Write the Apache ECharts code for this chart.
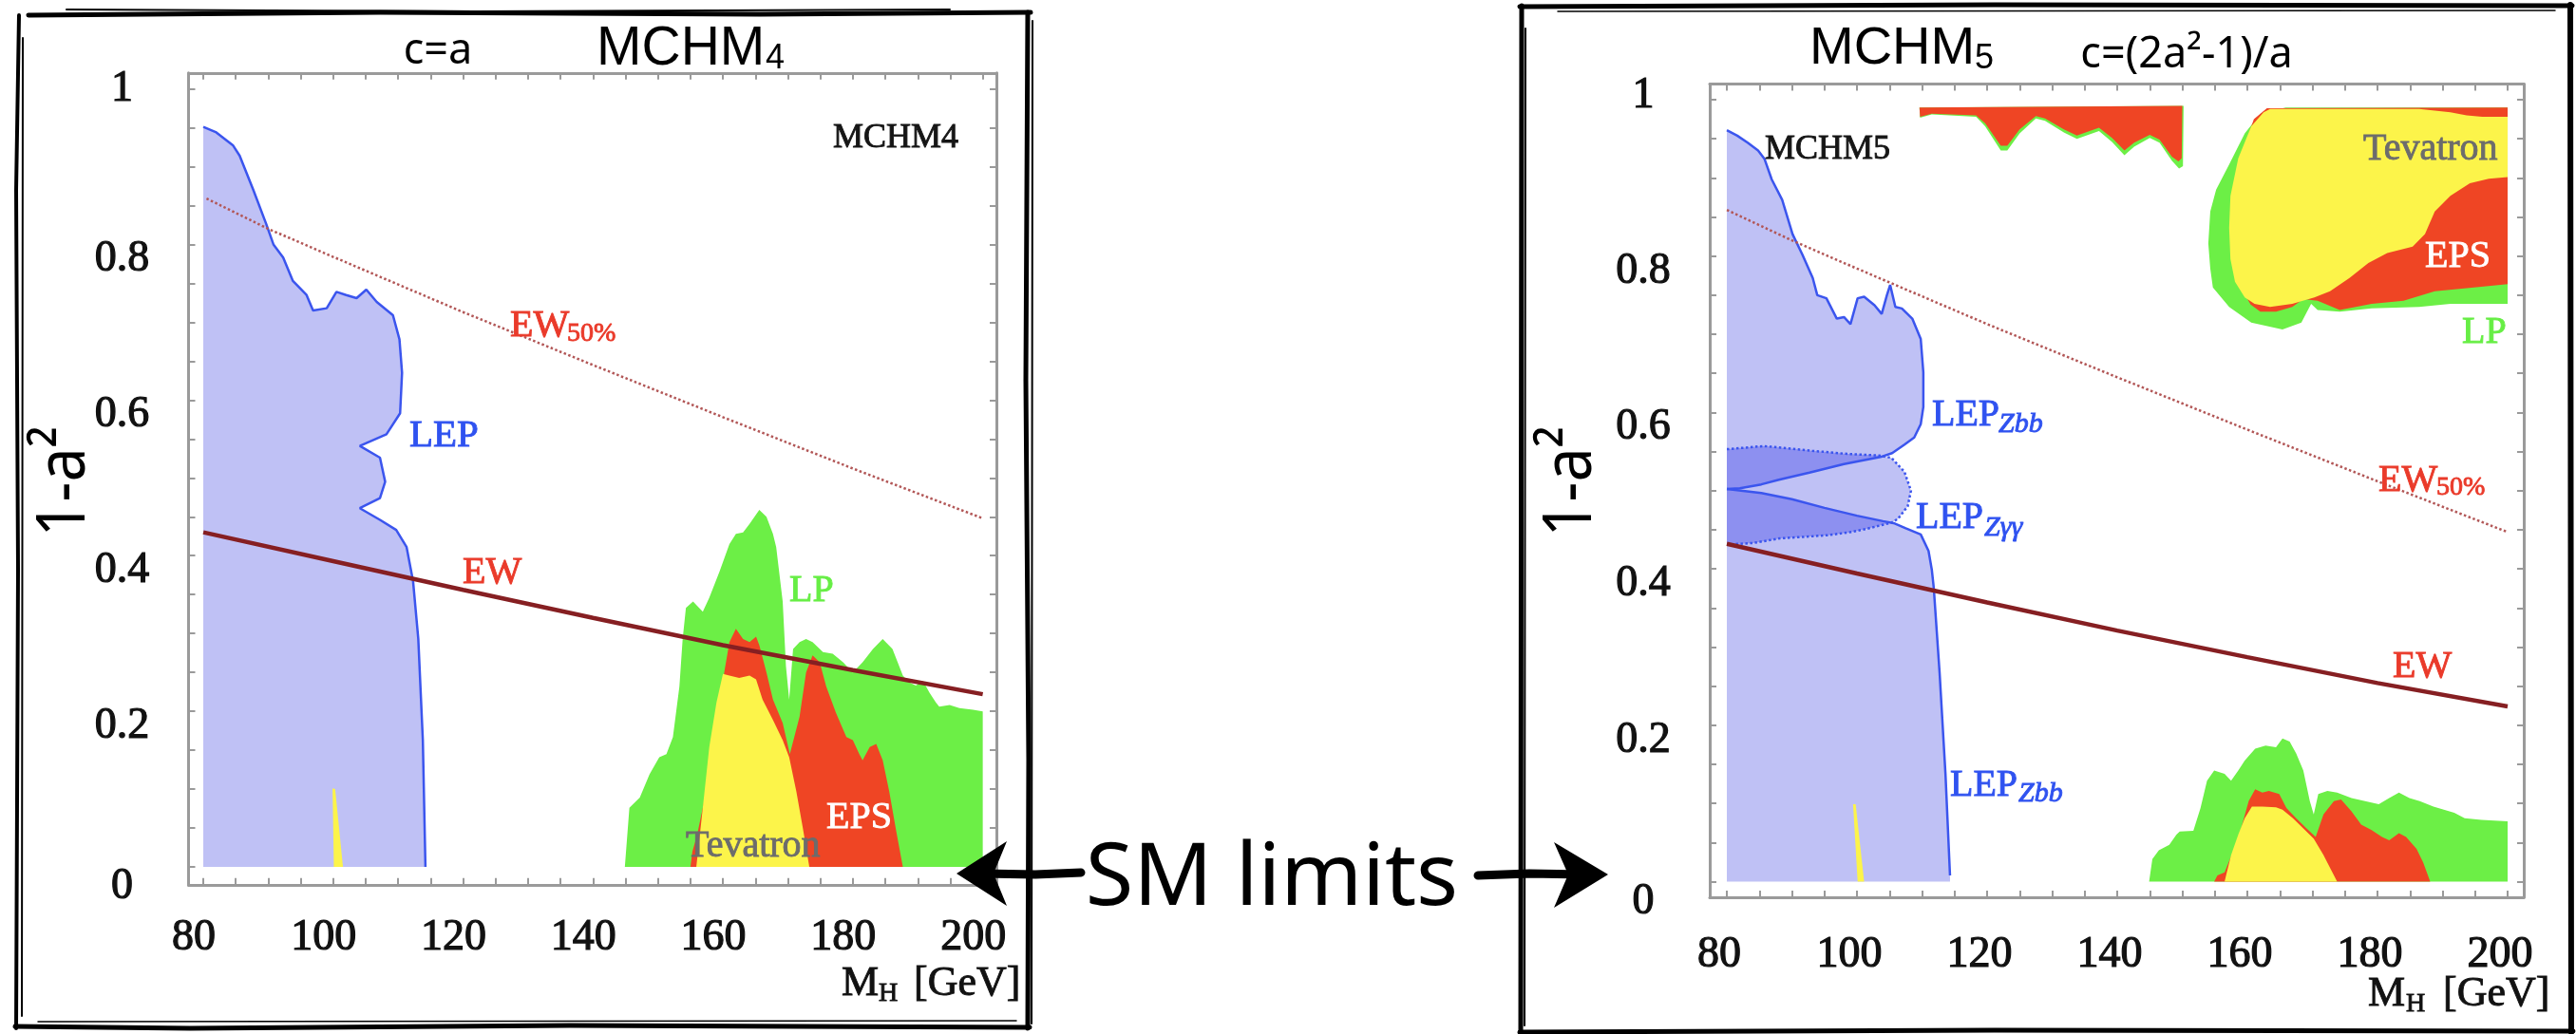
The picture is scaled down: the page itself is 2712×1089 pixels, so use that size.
<!DOCTYPE html>
<html><head><meta charset="utf-8">
<script src="https://cdn.jsdelivr.net/npm/echarts@6/dist/echarts.min.js"></script>
<style>html,body{margin:0;padding:0;background:#fff}#c{width:2712px;height:1089px}</style>
</head><body><div id="c"></div>
<script>
// ---------- axis values ----------
const xLabelValues = [80, 100, 120, 140, 160, 180, 200];
const xTickValues = [80, 85, 90, 95, 100, 105, 110, 115, 120, 125, 130, 135, 140, 145, 150, 155, 160, 165, 170, 175, 180, 185, 190, 195, 200];
const yLabelValues = [0, 0.2, 0.4, 0.6, 0.8, 1];
const yTickValues = [0, 0.05, 0.1, 0.15, 0.2, 0.25, 0.3, 0.35, 0.4, 0.45, 0.5, 0.55, 0.6, 0.65, 0.7, 0.75, 0.8, 0.85, 0.9, 0.95, 1];

// ---------- left panel: MCHM4 ----------
const lepL = [[80,0.951],[82,0.944],[84.6,0.927],[85.6,0.914],[87.7,0.870],[89.7,0.826],[90.8,0.800],[92.3,0.783],[93.8,0.753],[95.9,0.735],[96.9,0.715],[99.0,0.718],[100.5,0.739],[102.0,0.735],[103.6,0.731],[105.1,0.742],[106.7,0.726],[109.2,0.709],[110.2,0.678],[110.6,0.635],[110.3,0.583],[108.2,0.556],[104.1,0.541],[107.2,0.526],[108.0,0.495],[107.2,0.474],[104.1,0.461],[107.2,0.446],[109.7,0.433],[111.3,0.411],[112.3,0.367],[113.1,0.293],[113.8,0.163],[114.2,0.0]];
const spikeL = [[99.9,0.101],[100.3,0.100],[101.5,0],[100.1,0]];
const greenL = [[144.9,0],[145.6,0.076],[147.2,0.089],[148.7,0.119],[150.2,0.141],[151.3,0.145],[152.3,0.167],[153.3,0.232],[153.8,0.293],[154.3,0.333],[155.4,0.341],[156.9,0.328],[157.9,0.346],[159.5,0.380],[161.0,0.415],[162.0,0.428],[163.1,0.430],[164.1,0.441],[165.6,0.459],[166.7,0.450],[167.7,0.428],[168.2,0.411],[169.2,0.341],[169.7,0.258],[170.2,0.215],[170.8,0.280],[171.8,0.289],[172.8,0.293],[173.8,0.289],[175.4,0.276],[176.9,0.274],[178.5,0.263],[180.0,0.250],[181.5,0.263],[183.1,0.280],[184.6,0.293],[186.1,0.280],[187.7,0.246],[188.7,0.237],[189.7,0.233],[190.8,0.239],[191.8,0.224],[192.8,0.211],[193.3,0.206],[194.9,0.208],[196.4,0.204],[198.5,0.202],[200.0,0.200],[200.0,0]];
const redL = [[155.0,0],[155.3,0.020],[156.0,0.040],[157.5,0.100],[159.5,0.200],[160.2,0.250],[161.0,0.289],[162.0,0.306],[163.1,0.293],[164.1,0.289],[165.1,0.296],[165.6,0.285],[166.7,0.250],[167.7,0.215],[169.2,0.185],[170.3,0.145],[171.8,0.193],[172.8,0.250],[173.8,0.272],[174.9,0.263],[175.9,0.232],[177.4,0.198],[179.0,0.167],[180.0,0.163],[181.0,0.145],[181.5,0.137],[182.6,0.154],[183.6,0.158],[184.6,0.137],[185.6,0.097],[186.7,0.045],[187.7,0]];
const yellowL = [[155.9,0],[156.9,0.076],[157.9,0.154],[159.0,0.211],[160.0,0.248],[161.0,0.246],[162.5,0.243],[164.1,0.246],[165.1,0.241],[166.1,0.215],[167.7,0.189],[169.2,0.163],[170.2,0.141],[171.3,0.097],[172.3,0.050],[173.3,0]];
const ewL = [[80,0.430],[100,0.393],[120,0.356],[140,0.320],[160,0.285],[180,0.253],[200,0.222]];
const ew50L = [[80.5,0.859],[90,0.820],[100,0.784],[120,0.713],[140,0.645],[160,0.578],[180,0.512],[200,0.448]];

// ---------- right panel: MCHM5 ----------
const zbbTop = [[80.0,0.961],[81.6,0.954],[83.2,0.945],[84.8,0.935],[85.8,0.924],[86.9,0.898],[88.5,0.872],[90.1,0.828],[91.6,0.802],[93.2,0.772],[93.9,0.750],[95.3,0.746],[96.9,0.720],[98.0,0.722],[99.0,0.713],[100.1,0.746],[101.1,0.748],[102.7,0.737],[103.8,0.726],[104.6,0.750],[105.1,0.763],[105.9,0.735],[106.9,0.733],[108.5,0.720],[109.8,0.694],[110.2,0.651],[110.2,0.607],[109.8,0.585],[108.8,0.568],[107.3,0.559],[105.4,0.548],[103.6,0.543]];
const zbbUpper = [[103.6,0.543],[98.0,0.534],[92.7,0.523],[88.0,0.514],[85.3,0.508],[82.0,0.503],[80.0,0.502]];
const zbbLower = [[80,0.502],[85.3,0.497],[90,0.489],[95,0.478],[100,0.468],[104,0.461],[105.8,0.458],[107.5,0.452],[109.8,0.444],[111.0,0.423],[111.5,0.399],[111.8,0.376],[112.7,0.267],[113.6,0.138],[114.3,0.008]];
const zggTop = [[80,0.553],[85.7,0.557],[93.1,0.551],[98.5,0.547],[103.4,0.545],[105.3,0.542],[107.3,0.524],[108.3,0.500],[107.8,0.480],[106.3,0.464],[105.3,0.459]];
const zggBottom = [[105.3,0.459],[103.8,0.456],[101.4,0.451],[99.0,0.447],[95.5,0.443],[92.0,0.441],[88.2,0.439],[84.0,0.433],[80.0,0.431]];
const spikeR = [[99.4,0.099],[99.8,0.099],[101.1,0],[100.1,0]];
const greenStrip = [[109.6,0.990],[150.2,0.992],[150.1,0.915],[149.5,0.912],[148.4,0.922],[146.5,0.945],[145.0,0.951],[142.6,0.940],[141.1,0.929],[139.2,0.946],[137.2,0.960],[133.8,0.950],[131.8,0.958],[128.9,0.973],[127.5,0.976],[125.0,0.957],[123.1,0.935],[122.1,0.935],[119.7,0.966],[118.3,0.978],[111.5,0.981],[109.7,0.977]];
const redStrip = [[109.6,0.990],[150.0,0.992],[149.9,0.925],[149.4,0.921],[148.4,0.927],[146.5,0.949],[145.0,0.955],[142.6,0.945],[141.1,0.935],[139.2,0.951],[137.2,0.964],[133.8,0.954],[131.8,0.962],[128.9,0.976],[127.5,0.979],[125.0,0.962],[123.1,0.941],[122.1,0.941],[119.7,0.970],[118.3,0.980],[111.5,0.982],[109.7,0.978]];
const greenTR = [[165.9,0.990],[162.0,0.982],[159.6,0.957],[157.2,0.917],[155.2,0.885],[154.3,0.857],[154.0,0.816],[154.3,0.784],[154.7,0.760],[157.2,0.735],[160.6,0.715],[165.4,0.706],[168.3,0.715],[169.8,0.739],[170.8,0.731],[174.2,0.729],[179.1,0.733],[186.4,0.735],[191.2,0.739],[200.0,0.739],[200.0,0.990]];
const redTR = [[163.0,0.989],[161.0,0.975],[159.5,0.940],[158.2,0.890],[157.8,0.840],[158.0,0.790],[159.0,0.760],[160.5,0.738],[162.0,0.729],[164.4,0.729],[166.9,0.735],[168.6,0.745],[170.8,0.743],[174.2,0.731],[179.1,0.739],[184.0,0.743],[188.8,0.755],[193.7,0.759],[200.0,0.764],[200.0,0.990]];
const yellowTR = [[163.5,0.988],[186.4,0.988],[191.2,0.984],[193.7,0.980],[196.1,0.978],[200.0,0.978],[200.0,0.901],[197.1,0.899],[194.2,0.893],[191.2,0.877],[188.8,0.857],[187.3,0.828],[185.4,0.812],[181.5,0.804],[178.6,0.791],[175.7,0.772],[172.7,0.755],[170.3,0.747],[166.9,0.739],[163.5,0.735],[161.1,0.739],[159.6,0.747],[158.1,0.767],[157.4,0.796],[157.2,0.836],[157.4,0.877],[158.6,0.925],[160.6,0.966],[162.5,0.984]];
const greenBR = [[144.9,0],[145.4,0.029],[146.4,0.040],[148.0,0.047],[149.1,0.060],[149.6,0.064],[151.7,0.065],[152.8,0.094],[153.8,0.129],[154.9,0.142],[156.5,0.138],[157.5,0.129],[158.6,0.142],[159.6,0.155],[161.2,0.170],[162.8,0.174],[164.4,0.172],[165.4,0.183],[166.5,0.179],[167.5,0.164],[168.6,0.142],[169.6,0.103],[170.2,0.086],[170.9,0.112],[172.3,0.116],[173.8,0.114],[176.0,0.107],[178.1,0.103],[180.2,0.099],[181.8,0.107],[183.3,0.114],[184.9,0.107],[186.5,0.103],[188.6,0.096],[190.2,0.092],[191.8,0.088],[193.4,0.081],[196.0,0.079],[200.0,0.077],[200.0,0]];
const redBR = [[154.9,0],[155.4,0.008],[156.5,0.012],[158.6,0.055],[160.2,0.103],[161.2,0.118],[162.3,0.114],[163.3,0.116],[164.9,0.112],[166.0,0.094],[167.5,0.081],[169.1,0.068],[170.5,0.057],[171.7,0.086],[173.3,0.103],[174.4,0.105],[176.0,0.090],[177.5,0.073],[179.1,0.066],[180.7,0.057],[181.8,0.053],[183.3,0.062],[184.4,0.057],[186.0,0.042],[187.0,0.025],[188.1,0]];
const yellowBR = [[156.5,0],[157.5,0.034],[158.6,0.060],[159.6,0.081],[160.7,0.096],[162.3,0.096],[164.4,0.095],[165.4,0.092],[167.0,0.081],[168.6,0.068],[170.2,0.055],[171.7,0.034],[172.8,0.016],[173.8,0]];
const ewR = [[80,0.432],[100,0.394],[120,0.357],[140,0.321],[160,0.287],[180,0.254],[200,0.224]];
const ew50R = [[80,0.859],[90,0.820],[100,0.784],[120,0.713],[140,0.645],[160,0.578],[180,0.512],[200,0.447]];

// ---------- styling ----------
const C = {
  blueFill: '#bfc1f5', blueDark: '#8d90f0', blueLine: '#3b55ee',
  green: '#6cef46', red: '#ef4524', yellow: '#fcf44a',
  ew: '#861f22', ew50: '#b25757', frame: '#9a9a9a',
  lblRed: '#ea3a2a', lblBlue: '#2f52f0', lblGreen: '#66ee44', lblGray: '#6c6c6c'
};
const SERIF = '"Liberation Serif", "DejaVu Serif", serif';
const SANS = '"Liberation Sans", Arial, sans-serif';
const HAND = '"Noto Sans", "Open Sans", sans-serif';

function poly(gi, pts, color, z) {
  return {
    type: 'custom', xAxisIndex: gi * 2, yAxisIndex: gi * 2, silent: true, z: z,
    data: [pts[0]],
    renderItem: function (params, api) {
      return { type: 'polygon', shape: { points: pts.map(function (p) { return api.coord(p); }) }, style: { fill: color } };
    }
  };
}
function line(gi, pts, color, width, type, z) {
  return {
    type: 'line', xAxisIndex: gi * 2, yAxisIndex: gi * 2, silent: true, z: z,
    data: pts, symbol: 'none', showSymbol: false, smooth: false,
    lineStyle: { color: color, width: width, type: type }
  };
}

const lepLFill = [[80, 0]].concat(lepL);
const zbbFill = [[80, 0]].concat(zbbTop, zbbUpper.slice(1), zbbLower.slice(1), [[114.3, 0]]);
const zggFill = zggTop.concat(zggBottom.slice(1));
const overlapUpper = zggTop.slice(0, 5).concat(zbbUpper);
const overlapLower = zbbLower.slice(0, 7).concat(zggBottom);

const series = [
  poly(0, lepLFill, C.blueFill, 2),
  line(0, lepL, C.blueLine, 2.5, 'solid', 3),
  poly(0, spikeL, C.yellow, 2),
  poly(0, greenL, C.green, 2),
  poly(0, redL, C.red, 2),
  poly(0, yellowL, C.yellow, 2),
  line(0, ew50L, C.ew50, 2.5, 'dotted', 4),
  line(0, ewL, C.ew, 4.5, 'solid', 4),

  poly(1, zbbFill, C.blueFill, 2),
  poly(1, zggFill, C.blueFill, 2),
  poly(1, overlapUpper, C.blueDark, 2),
  poly(1, overlapLower, C.blueDark, 2),
  line(1, zbbTop.concat(zbbUpper.slice(1)), C.blueLine, 2.5, 'solid', 3),
  line(1, zbbLower, C.blueLine, 2.5, 'solid', 3),
  line(1, zggFill, C.blueLine, 2.5, 'dotted', 3),
  poly(1, spikeR, C.yellow, 2),
  poly(1, greenStrip, C.green, 2),
  poly(1, redStrip, C.red, 2),
  poly(1, greenTR, C.green, 2),
  poly(1, redTR, C.red, 2),
  poly(1, yellowTR, C.yellow, 2),
  poly(1, greenBR, C.green, 2),
  poly(1, redBR, C.red, 2),
  poly(1, yellowBR, C.yellow, 2),
  line(1, ew50R, C.ew50, 2.5, 'dotted', 4),
  line(1, ewR, C.ew, 4.5, 'solid', 4)
];

const axisLineStyle = { show: true, onZero: false, lineStyle: { color: C.frame, width: 3 } };
const LBL = '#111111';
function xAxes(gi, min, max, margin, pad) {
  return [
    { type: 'value', gridIndex: gi, position: 'bottom', min: min, max: max,
      axisLine: axisLineStyle, splitLine: { show: false },
      axisTick: { show: true, inside: true, length: 7, customValues: xTickValues, lineStyle: { color: C.frame, width: 2 } },
      axisLabel: { show: true, customValues: xLabelValues, margin: margin, verticalAlign: 'middle', padding: [0, pad, 0, 0],
        fontSize: 46, fontFamily: SERIF, color: LBL, textBorderColor: LBL, textBorderWidth: 1.2 } },
    { type: 'value', gridIndex: gi, position: 'top', min: min, max: max,
      axisLine: axisLineStyle, splitLine: { show: false },
      axisTick: { show: true, inside: true, length: 7, customValues: xTickValues, lineStyle: { color: C.frame, width: 2 } },
      axisLabel: { show: false } }
  ];
}
function yAxes(gi, min, max, oneShift) {
  const base = { fontSize: 46, fontFamily: SERIF, color: LBL, textBorderColor: LBL, textBorderWidth: 1.2 };
  return [
    { type: 'value', gridIndex: gi, position: 'left', min: min, max: max,
      axisLine: axisLineStyle, splitLine: { show: false },
      axisTick: { show: true, inside: true, length: 7, customValues: yTickValues, lineStyle: { color: C.frame, width: 2 } },
      axisLabel: { show: true, customValues: yLabelValues, margin: 70, align: 'center', verticalAlign: 'middle',
        fontSize: 46, fontFamily: SERIF, color: LBL,
        formatter: function (v) {
          if (v === 0) return '{z|0}';
          if (v === 1) return '{o|1}';
          return '{d|' + v.toFixed(1) + '}';
        },
        rich: {
          z: Object.assign({ padding: [42, 0, 0, 0] }, base),
          o: Object.assign({ padding: oneShift }, base),
          d: Object.assign({ padding: [32, 0, 0, 0] }, base)
        } } },
    { type: 'value', gridIndex: gi, position: 'right', min: min, max: max,
      axisLine: axisLineStyle, splitLine: { show: false },
      axisTick: { show: true, inside: true, length: 7, customValues: yTickValues, lineStyle: { color: C.frame, width: 2 } },
      axisLabel: { show: false } }
  ];
}

// ---------- decorations ----------
function txt(x, y, s, font, color, align, extra, heavy) {
  const st = { text: s, font: font, fill: color, align: align || 'left', verticalAlign: 'middle',
    textAlign: align || 'left', textVerticalAlign: 'middle' };
  if (heavy) { st.stroke = color; st.lineWidth = heavy; }
  return Object.assign({ type: 'text', x: x, y: y, z: 100, silent: true, style: st }, extra || {});
}
function lab(x, y, s, font, color) { return txt(x, y, s, font, color, 'left', null, 0.9); }
function pl(points, w) {
  return { type: 'polyline', z: 100, silent: true, shape: { points: points },
    style: { stroke: '#000', lineWidth: w, fill: null, lineJoin: 'round', lineCap: 'round' } };
}
function pg(points) {
  return { type: 'polygon', z: 100, silent: true, shape: { points: points }, style: { fill: '#000' } };
}
const serif = function (sz, st) { return (st || '') + ' ' + sz + 'px ' + SERIF; };

const graphics = [
  // sketchy outer frames
  pl([[30,16],[400,13],[800,15],[1085,13]], 5), pl([[70,10],[500,12],[1000,10]], 2),
  pl([[1082,13],[1080,400],[1083,800],[1082,1083]], 5), pl([[1087,22],[1086,1078]], 2),
  pl([[1084,1082],[600,1080],[200,1083],[16,1081]], 5), pl([[40,1076],[1070,1075]], 1.5),
  pl([[17,1083],[19,600],[17,200],[20,16]], 4), pl([[24,40],[23,1070]], 2),
  pl([[1600,7],[2100,5],[2708,6]], 5), pl([[1640,12],[2690,11]], 1.5),
  pl([[2706,5],[2707,1087]], 6),
  pl([[2709,1086],[2100,1085],[1600,1087]], 5),
  pl([[1601,1087],[1602,6]], 5), pl([[1606,30],[1605,1080]], 2),
  // arrows
  pl([[1138,919],[1090,921],[1035,920]], 9), pg([[1007,920],[1060,886],[1046,920],[1060,954]]),
  pl([[1556,922],[1610,920],[1668,921]], 9), pg([[1693,921],[1636,887],[1651,921],[1636,956]]),
  txt(1339, 927, 'SM limits', '92px ' + HAND, '#000', 'center'),
  // titles
  txt(461, 54, 'c=a', '45px ' + HAND, '#000', 'center'),
  txt(628, 52, 'MCHM', '57px ' + SANS, '#000', 'left'),
  txt(806, 62, '4', '36px ' + SANS, '#000', 'left'),
  txt(1905, 52, 'MCHM', '56px ' + SANS, '#000', 'left'),
  txt(2079, 62, '5', '36px ' + SANS, '#000', 'left'),
  txt(2302, 58, 'c=(2a²-1)/a', '45px ' + HAND, '#000', 'center'),
  // y names
  txt(68, 507, '1-a²', '72px ' + HAND, '#000', 'center', { rotation: Math.PI / 2, scaleX: 0.9 }),
  txt(1654, 507, '1-a²', '72px ' + HAND, '#000', 'center', { rotation: Math.PI / 2, scaleX: 0.9 }),
  // x names
  lab(886, 1036, 'M', serif(44), '#111'), lab(925, 1047, 'H', serif(28), '#111'), lab(962, 1036, '[GeV]', serif(44), '#111'),
  lab(2493, 1047, 'M', serif(44), '#111'), lab(2533, 1058, 'H', serif(28), '#111'), lab(2572, 1047, '[GeV]', serif(44), '#111'),
  // left in-plot labels
  lab(877, 146, 'MCHM4', serif(36), '#151515'),
  lab(431, 459, 'LEP', serif(41), C.lblBlue),
  lab(487, 603, 'EW', serif(40), C.lblRed),
  lab(537, 343, 'EW', serif(40), C.lblRed), lab(597, 352, '50%', serif(28), C.lblRed),
  lab(831, 622, 'LP', serif(40), C.lblGreen),
  lab(870, 861, 'EPS', serif(40), '#ffffff'),
  lab(722, 891, 'Tevatron', serif(40), C.lblGray),
  // right in-plot labels
  lab(1858, 158, 'MCHM5', serif(36), '#151515'),
  lab(2488, 157, 'Tevatron', serif(40), C.lblGray),
  lab(2553, 270, 'EPS', serif(40), '#ffffff'),
  lab(2592, 350, 'LP', serif(40), C.lblGreen),
  lab(2034, 437, 'LEP', serif(40), C.lblBlue), lab(2104, 447, 'Zbb', serif(30, 'italic'), C.lblBlue),
  lab(2017, 545, 'LEP', serif(40), C.lblBlue), lab(2089, 556, 'Zγγ', serif(30, 'italic'), C.lblBlue),
  lab(2053, 827, 'LEP', serif(40), C.lblBlue), lab(2125, 836, 'Zbb', serif(30, 'italic'), C.lblBlue),
  lab(2504, 506, 'EW', serif(40), C.lblRed), lab(2565, 514, '50%', serif(28), C.lblRed),
  lab(2519, 702, 'EW', serif(40), C.lblRed)
];

const chart = echarts.init(document.getElementById('c'), null, { renderer: 'canvas', width: 2712, height: 1089 });
chart.setOption({
  animation: false,
  backgroundColor: '#ffffff',
  grid: [
    { left: 198.5, top: 76.8, width: 850.5, height: 855 },
    { left: 1800, top: 88.5, width: 857, height: 856.5 }
  ],
  xAxis: xAxes(0, 77.73, 202.1, 56, 20).concat(xAxes(1, 77.37, 202.48, 61, 16)),
  yAxis: yAxes(0, -0.0229, 1.0204, [0, 0, 0, 0]).concat(yAxes(1, -0.02, 1.02, [0, 0, 8, 0])),
  series: series,
  graphic: graphics
});
</script>
</body></html>
